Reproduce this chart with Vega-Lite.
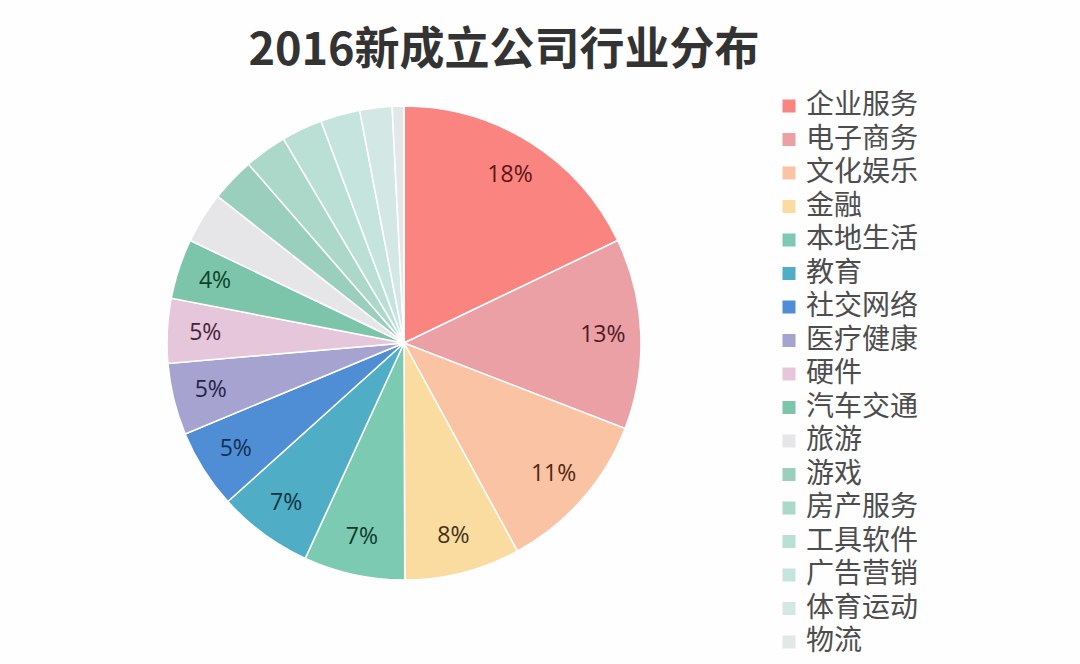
{
  "$schema": "https://vega.github.io/schema/vega-lite/v6.json",
  "autosize": "none",
  "width": 508,
  "height": 496,
  "padding": {"left": 150, "top": 95, "right": 422, "bottom": 73},
  "background": "#fefefe",
  "title": {
    "text": "2016新成立公司行业分布",
    "font": "Noto Sans CJK SC",
    "fontSize": 45,
    "fontWeight": "bold",
    "color": "#333333",
    "anchor": "middle",
    "dx": 100,
    "offset": 18
  },
  "config": {"view": {"stroke": null}},
  "data": {
    "values": [
      {"order": 1, "industry": "企业服务", "share": 17.9, "label": "18%"},
      {"order": 2, "industry": "电子商务", "share": 13.0, "label": "13%"},
      {"order": 3, "industry": "文化娱乐", "share": 11.2, "label": "11%"},
      {"order": 4, "industry": "金融", "share": 7.9, "label": "8%"},
      {"order": 5, "industry": "本地生活", "share": 6.9, "label": "7%"},
      {"order": 6, "industry": "教育", "share": 6.5, "label": "7%"},
      {"order": 7, "industry": "社交网络", "share": 5.4, "label": "5%"},
      {"order": 8, "industry": "医疗健康", "share": 4.9, "label": "5%"},
      {"order": 9, "industry": "硬件", "share": 4.4, "label": "5%"},
      {"order": 10, "industry": "汽车交通", "share": 4.1, "label": "4%"},
      {"order": 11, "industry": "旅游", "share": 3.5, "label": ""},
      {"order": 12, "industry": "游戏", "share": 3.0, "label": ""},
      {"order": 13, "industry": "房产服务", "share": 2.9, "label": ""},
      {"order": 14, "industry": "工具软件", "share": 2.8, "label": ""},
      {"order": 15, "industry": "广告营销", "share": 2.7, "label": ""},
      {"order": 16, "industry": "体育运动", "share": 2.2, "label": ""},
      {"order": 17, "industry": "物流", "share": 0.8, "label": ""}
    ]
  },
  "encoding": {
    "theta": {"field": "share", "type": "quantitative", "stack": true},
    "order": {"field": "order", "type": "quantitative"}
  },
  "layer": [
    {
      "mark": {"type": "arc", "outerRadius": 237, "stroke": "#ffffff", "strokeWidth": 1.5},
      "encoding": {
        "color": {
          "field": "industry",
          "type": "nominal",
          "sort": null,
          "scale": {
            "domain": ["企业服务", "电子商务", "文化娱乐", "金融", "本地生活", "教育", "社交网络", "医疗健康", "硬件", "汽车交通", "旅游", "游戏", "房产服务", "工具软件", "广告营销", "体育运动", "物流"],
            "range": ["#FA8580", "#EBA0A6", "#FAC3A3", "#FBDCA0", "#7DCAB3", "#4FAEC6", "#4F8ED4", "#A6A3D0", "#E6C6DA", "#7CC4AA", "#E6E6E8", "#9ACFBE", "#ABD8C9", "#BADFD4", "#C6E4DE", "#D3E8E5", "#E2E8E8"]
          },
          "legend": {
            "title": null,
            "orient": "none",
            "legendX": 625,
            "legendY": -3,
            "symbolType": "square",
            "symbolSize": 169,
            "symbolStrokeWidth": 0,
            "labelFont": "Noto Sans CJK SC",
            "labelFontSize": 28,
            "labelColor": "#4d4d4d",
            "labelOffset": 3,
            "labelLimit": 300,
            "rowPadding": 5.5
          }
        }
      }
    },
    {
      "mark": {"type": "text", "radius": 199, "font": "Open Sans", "fontSize": 23},
      "encoding": {
        "text": {"field": "label", "type": "nominal"},
        "color": {
          "field": "industry",
          "type": "nominal",
          "sort": null,
          "legend": null,
          "scale": {
            "domain": ["企业服务", "电子商务", "文化娱乐", "金融", "本地生活", "教育", "社交网络", "医疗健康", "硬件", "汽车交通", "旅游", "游戏", "房产服务", "工具软件", "广告营销", "体育运动", "物流"],
            "range": ["#5E1414", "#501A24", "#502614", "#40321A", "#0E3A2A", "#0A3444", "#102E52", "#242448", "#42243A", "#0A4428", "#333333", "#333333", "#333333", "#333333", "#333333", "#333333", "#333333"]
          }
        }
      }
    }
  ],
  "resolve": {"scale": {"color": "independent"}}
}
